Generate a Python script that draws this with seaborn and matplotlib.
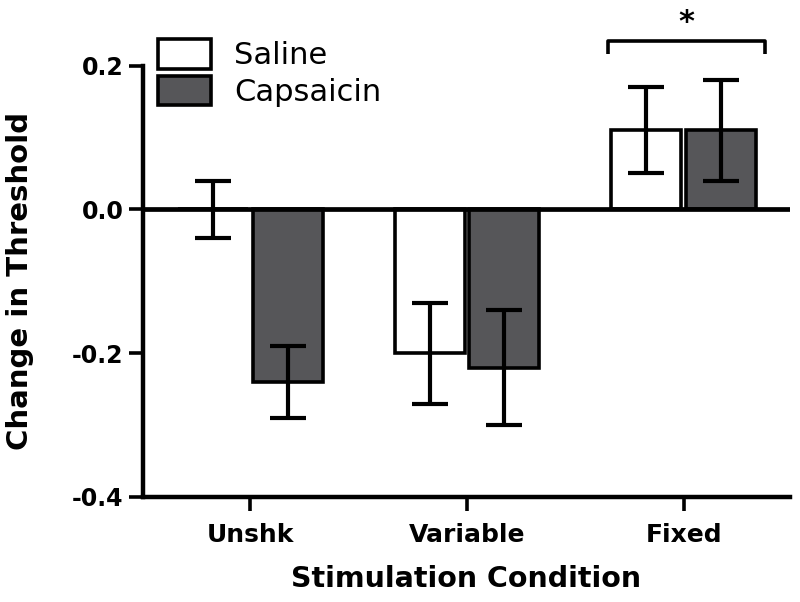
import matplotlib
matplotlib.use("Agg")
import matplotlib.pyplot as plt
import seaborn as sns
import pandas as pd
import numpy as np

# ---- data ----
conditions = ["Unshk", "Variable", "Fixed"]
groups = ["Saline", "Capsaicin"]
saline_mean = [0.00, -0.20, 0.11]
saline_err = [0.04, 0.07, 0.06]
capsaicin_mean = [-0.24, -0.22, 0.11]
capsaicin_err = [0.05, 0.08, 0.07]
y_ticks = [-0.4, -0.2, 0.0, 0.2]
y_tick_labels = ["-0.4", "-0.2", "0.0", "0.2"]
sig_label = "*"

df = pd.DataFrame({
    "Condition": conditions * 2,
    "Group": [groups[0]] * 3 + [groups[1]] * 3,
    "Value": saline_mean + capsaicin_mean,
})
errs = {groups[0]: saline_err, groups[1]: capsaicin_err}
means = {groups[0]: saline_mean, groups[1]: capsaicin_mean}

sns.set_style("ticks")
plt.rcParams["font.family"] = ["DejaVu Sans"]
plt.rcParams.update({
    "text.color": "black", "axes.labelcolor": "black",
    "xtick.color": "black", "ytick.color": "black",
    "axes.edgecolor": "black",
})

fig = plt.figure(figsize=(8, 6.02), dpi=100)
ylim = (-0.4, 0.27)
ax = fig.add_axes([143 / 800, 1 - 497 / 602, (790 - 143) / 800, (497 - 15.3) / 602])

palette = {groups[0]: "white", groups[1]: "#55565a"}
sns.barplot(data=df, x="Condition", y="Value", hue="Group", order=conditions,
            hue_order=groups, palette=palette, errorbar=None, width=0.69, gap=0.065,
            edgecolor="black", linewidth=2.6, ax=ax, zorder=2)

bar_containers = list(ax.containers)[:len(groups)]
for gi, cont in enumerate(bar_containers):
    g = groups[gi]
    xs = [b.get_x() + b.get_width() / 2 for b in cont]
    ax.errorbar(xs, means[g], yerr=errs[g], fmt="none", ecolor="black",
                elinewidth=3.0, capsize=13, capthick=3.0, zorder=4)

ax.axhline(0, color="black", lw=3.4, zorder=3)

ax.set_xlim(-0.495, 2.49)
ax.set_ylim(*ylim)
ax.set_yticks(y_ticks)
ax.set_yticklabels(y_tick_labels)
sns.despine(ax=ax)
ax.spines["left"].set_bounds(-0.4, 0.2)
for s in ["left", "bottom"]:
    ax.spines[s].set_linewidth(3.2)
    ax.spines[s].set_color("black")
ax.tick_params(axis="both", width=2.6, length=10, color="black", labelcolor="black")
ax.tick_params(axis="y", labelsize=17, pad=4)
ax.tick_params(axis="x", labelsize=18, pad=9)
for lab in ax.get_xticklabels() + ax.get_yticklabels():
    lab.set_fontweight("bold")

ax.set_xlabel("Stimulation Condition", fontsize=20.5, fontweight="bold", labelpad=13)
ax.set_ylabel("Change in Threshold", fontsize=21, fontweight="bold")
y_mid = ((y_ticks[0] + y_ticks[-1]) / 2 - ylim[0]) / (ylim[1] - ylim[0])
ax.yaxis.set_label_coords(-0.168, y_mid)

# significance bracket
bx0, bx1, by, bleg = 1.649, 2.374, 0.234, 0.216
ax.plot([bx0, bx0, bx1, bx1], [bleg, by, by, bleg], color="black", lw=2.6,
        clip_on=False, solid_capstyle="butt")
ax.text((bx0 + bx1) / 2, 0.248, sig_label, ha="center", va="baseline",
        fontsize=22, fontweight="bold", clip_on=False)

handles, labels = ax.get_legend_handles_labels()
ax.legend(handles, labels, loc="upper left", bbox_to_anchor=(158 / 800, 1 - 39 / 602),
          bbox_transform=fig.transFigure, frameon=False, fontsize=22,
          handlelength=1.74, handleheight=1.12, handletextpad=0.75,
          labelspacing=0.18, borderpad=0, borderaxespad=0)

fig.savefig("out.png", dpi=100)
